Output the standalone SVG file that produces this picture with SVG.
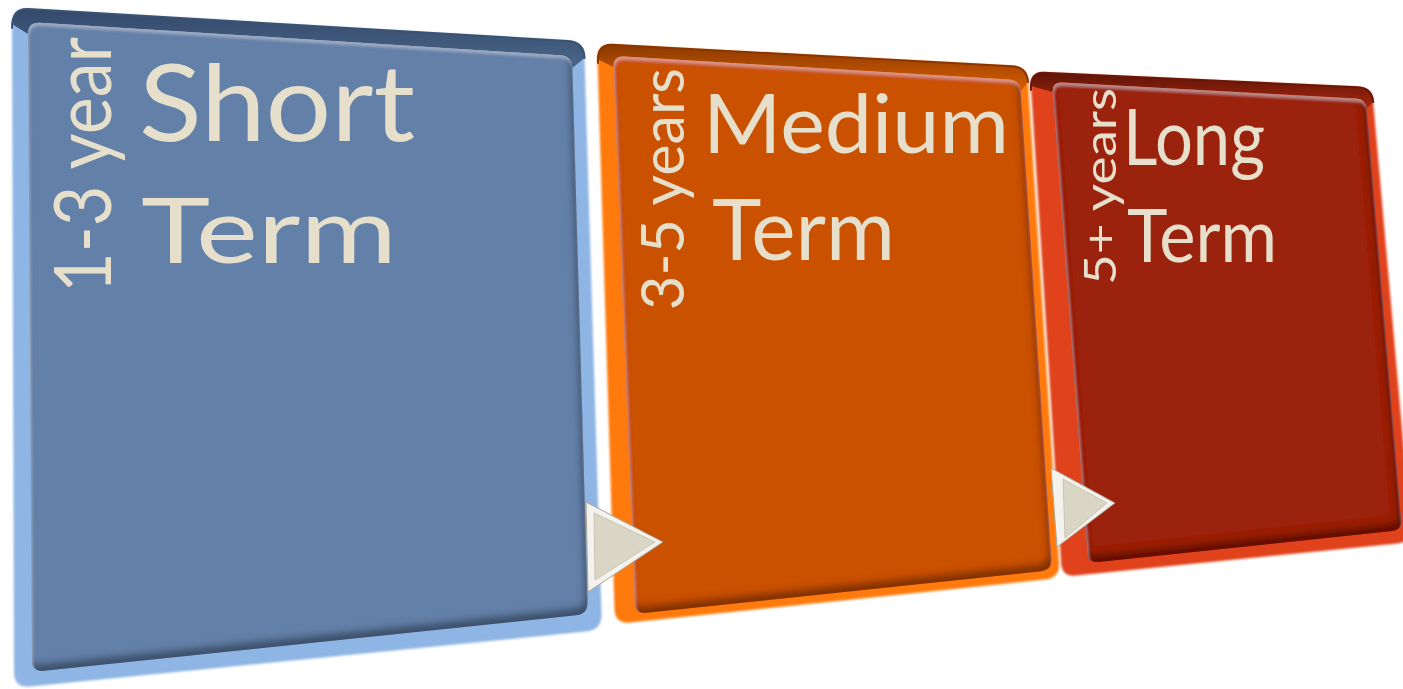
<svg xmlns="http://www.w3.org/2000/svg" width="1403" height="689" viewBox="0 0 1403 689">
<defs>
<style>
.lbl{font-family:Lato,"Liberation Sans",sans-serif;fill:#E6DFCC;}
.tri-o{fill:#F4F2EC;stroke:#A8A494;stroke-width:1;stroke-linejoin:round;}
.tri-i{fill:#DAD6C6;stroke:#C2BEAE;stroke-width:0.8;stroke-linejoin:round;}
.edge{fill:none;stroke-width:2;stroke-linecap:round;}
</style>
<filter id="inset" x="-5%" y="-5%" width="110%" height="110%">
<feGaussianBlur in="SourceAlpha" stdDeviation="3.5" result="b"/>
<feOffset in="b" dx="-3" dy="-7" result="o"/>
<feComposite in="SourceAlpha" in2="o" operator="out" result="inv"/>
<feFlood flood-color="#000" flood-opacity="0.62"/>
<feComposite in2="inv" operator="in" result="sh"/>
<feGaussianBlur in="SourceAlpha" stdDeviation="1.5" result="b2"/>
<feOffset in="b2" dx="1" dy="3" result="o2"/>
<feComposite in="SourceAlpha" in2="o2" operator="out" result="inv2"/>
<feFlood flood-color="#fff" flood-opacity="0.25"/>
<feComposite in2="inv2" operator="in" result="hl"/>
<feMerge><feMergeNode in="SourceGraphic"/><feMergeNode in="sh"/><feMergeNode in="hl"/></feMerge>
</filter>
<filter id="glow" x="-5%" y="-5%" width="110%" height="110%">
<feGaussianBlur stdDeviation="1.2"/>
</filter>
<linearGradient id="blueTop" x1="0" y1="0" x2="0" y2="1"><stop offset="0" stop-color="#34496A"/><stop offset="1" stop-color="#4A6689"/></linearGradient>
<linearGradient id="orTop" x1="0" y1="0" x2="0" y2="1"><stop offset="0" stop-color="#8C3A00"/><stop offset="1" stop-color="#D85E00"/></linearGradient>
<linearGradient id="redTop" x1="0" y1="0" x2="0" y2="1"><stop offset="0" stop-color="#5E1407"/><stop offset="1" stop-color="#A8270F"/></linearGradient>
</defs>

<g id="long-term">
<path d="M1030.9,86 Q1030,72 1044,72.7 L1358,87.3 Q1372,88 1373.2,102 L1410.8,528 Q1412,542 1398,543.4 L1076,575.6 Q1062,577 1061.1,563 Z" fill="#E0421E" filter="url(#glow)"/>
<path d="M1030.9,86 Q1030,72 1044,72.7 L1358,87.3 Q1372,88 1373.2,102 L1366.8,109 Q1366,99 1356,98.5 L1062,82.5 Q1052,82 1052.7,92 Z" fill="url(#redTop)"/>
<path class="edge" stroke="#6A1608" d="M1031,90 Q1030,72 1044,72.7 L1358,87.3 Q1372,88 1373.2,102"/>
<path d="M1052.7,92 Q1052,82 1062,82.5 L1356,98.5 Q1366,99 1366.8,109 L1401.2,520 Q1402,530 1392,531 L1098,562 Q1088,563 1087.3,553 Z" fill="#9B2310" filter="url(#inset)"/>
<text class="lbl" x="1123" y="165" font-size="77" textLength="142" lengthAdjust="spacingAndGlyphs">Long</text>
<text class="lbl" x="1127" y="262" font-size="73" textLength="150" lengthAdjust="spacingAndGlyphs">Term</text>
<text class="lbl" transform="translate(1116,285) rotate(-90)" x="0" y="0" font-size="45" textLength="197" lengthAdjust="spacingAndGlyphs">5+ years</text>
</g>

<g id="medium-term">
<path d="M597.5,59 Q597,44 612,44.8 L1012,66.2 Q1027,67 1028,82 L1059,563 Q1060,578 1045,579.5 L630,622.5 Q615,624 614.5,609 Z" fill="#FF7A0A" filter="url(#glow)"/>
<path d="M597.5,59 Q597,44 612,44.8 L1012,66.2 Q1027,67 1028,82 L1020.7,91 Q1020,80 1009,79.4 L624,56.6 Q613,56 613.4,67 Z" fill="url(#orTop)"/>
<path class="edge" stroke="#8A3400" d="M598,63 Q597,44 612,44.8 L1012,66.2 Q1027,67 1028,82"/>
<path d="M613.4,67 Q613,56 624,56.6 L1009,79.4 Q1020,80 1020.7,91 L1051.3,559 Q1052,570 1041,571.2 L646,612.8 Q635,614 634.6,603 Z" fill="#CA5100" filter="url(#inset)"/>
<text class="lbl" x="703" y="153" font-size="81" textLength="306" lengthAdjust="spacingAndGlyphs">Medium</text>
<text class="lbl" x="712" y="260" font-size="86" textLength="183" lengthAdjust="spacingAndGlyphs">Term</text>
<text class="lbl" transform="translate(684,310) rotate(-90)" x="0" y="0" font-size="60" textLength="242" lengthAdjust="spacingAndGlyphs">3-5 years</text>
</g>

<g id="short-term">
<path d="M12,24 Q12,8 28,9 L568,41 Q584,42 584.5,58 L601.5,614 Q602,630 586,631.6 L30,686.4 Q14,688 14,672 Z" fill="#8FB5E5" filter="url(#glow)"/>
<path d="M12,24 Q12,8 28,9 L568,41 Q584,42 584.5,58 L572.4,68 Q572,56 560,55.3 L40,22.7 Q28,22 28,34 Z" fill="url(#blueTop)"/>
<path class="edge" stroke="#3A5273" d="M12,28 Q12,8 28,9 L568,41 Q584,42 584.5,58"/>
<path d="M28,34 Q28,22 40,22.7 L560,55.3 Q572,56 572.4,68 L587.6,602 Q588,614 576,615.2 L44,670.8 Q32,672 32,660 Z" fill="#6480A8" filter="url(#inset)"/>
<text class="lbl" x="139" y="141" font-size="106" textLength="276" lengthAdjust="spacingAndGlyphs">Short</text>
<text class="lbl" x="141" y="263" font-size="92" textLength="256" lengthAdjust="spacingAndGlyphs">Term</text>
<text class="lbl" transform="translate(111,293) rotate(-90)" x="0" y="0" font-size="79" textLength="256" lengthAdjust="spacingAndGlyphs">1-3 year</text>
</g>

<g id="connectors">
<polygon class="tri-o" points="586,502 663,542 588,592"/>
<polygon class="tri-i" points="594,513 655,542 595,580"/>
<polygon class="tri-o" points="1051,468 1115,503 1057,547"/>
<polygon class="tri-i" points="1063,479 1107,503 1065,538"/>
</g>
</svg>
